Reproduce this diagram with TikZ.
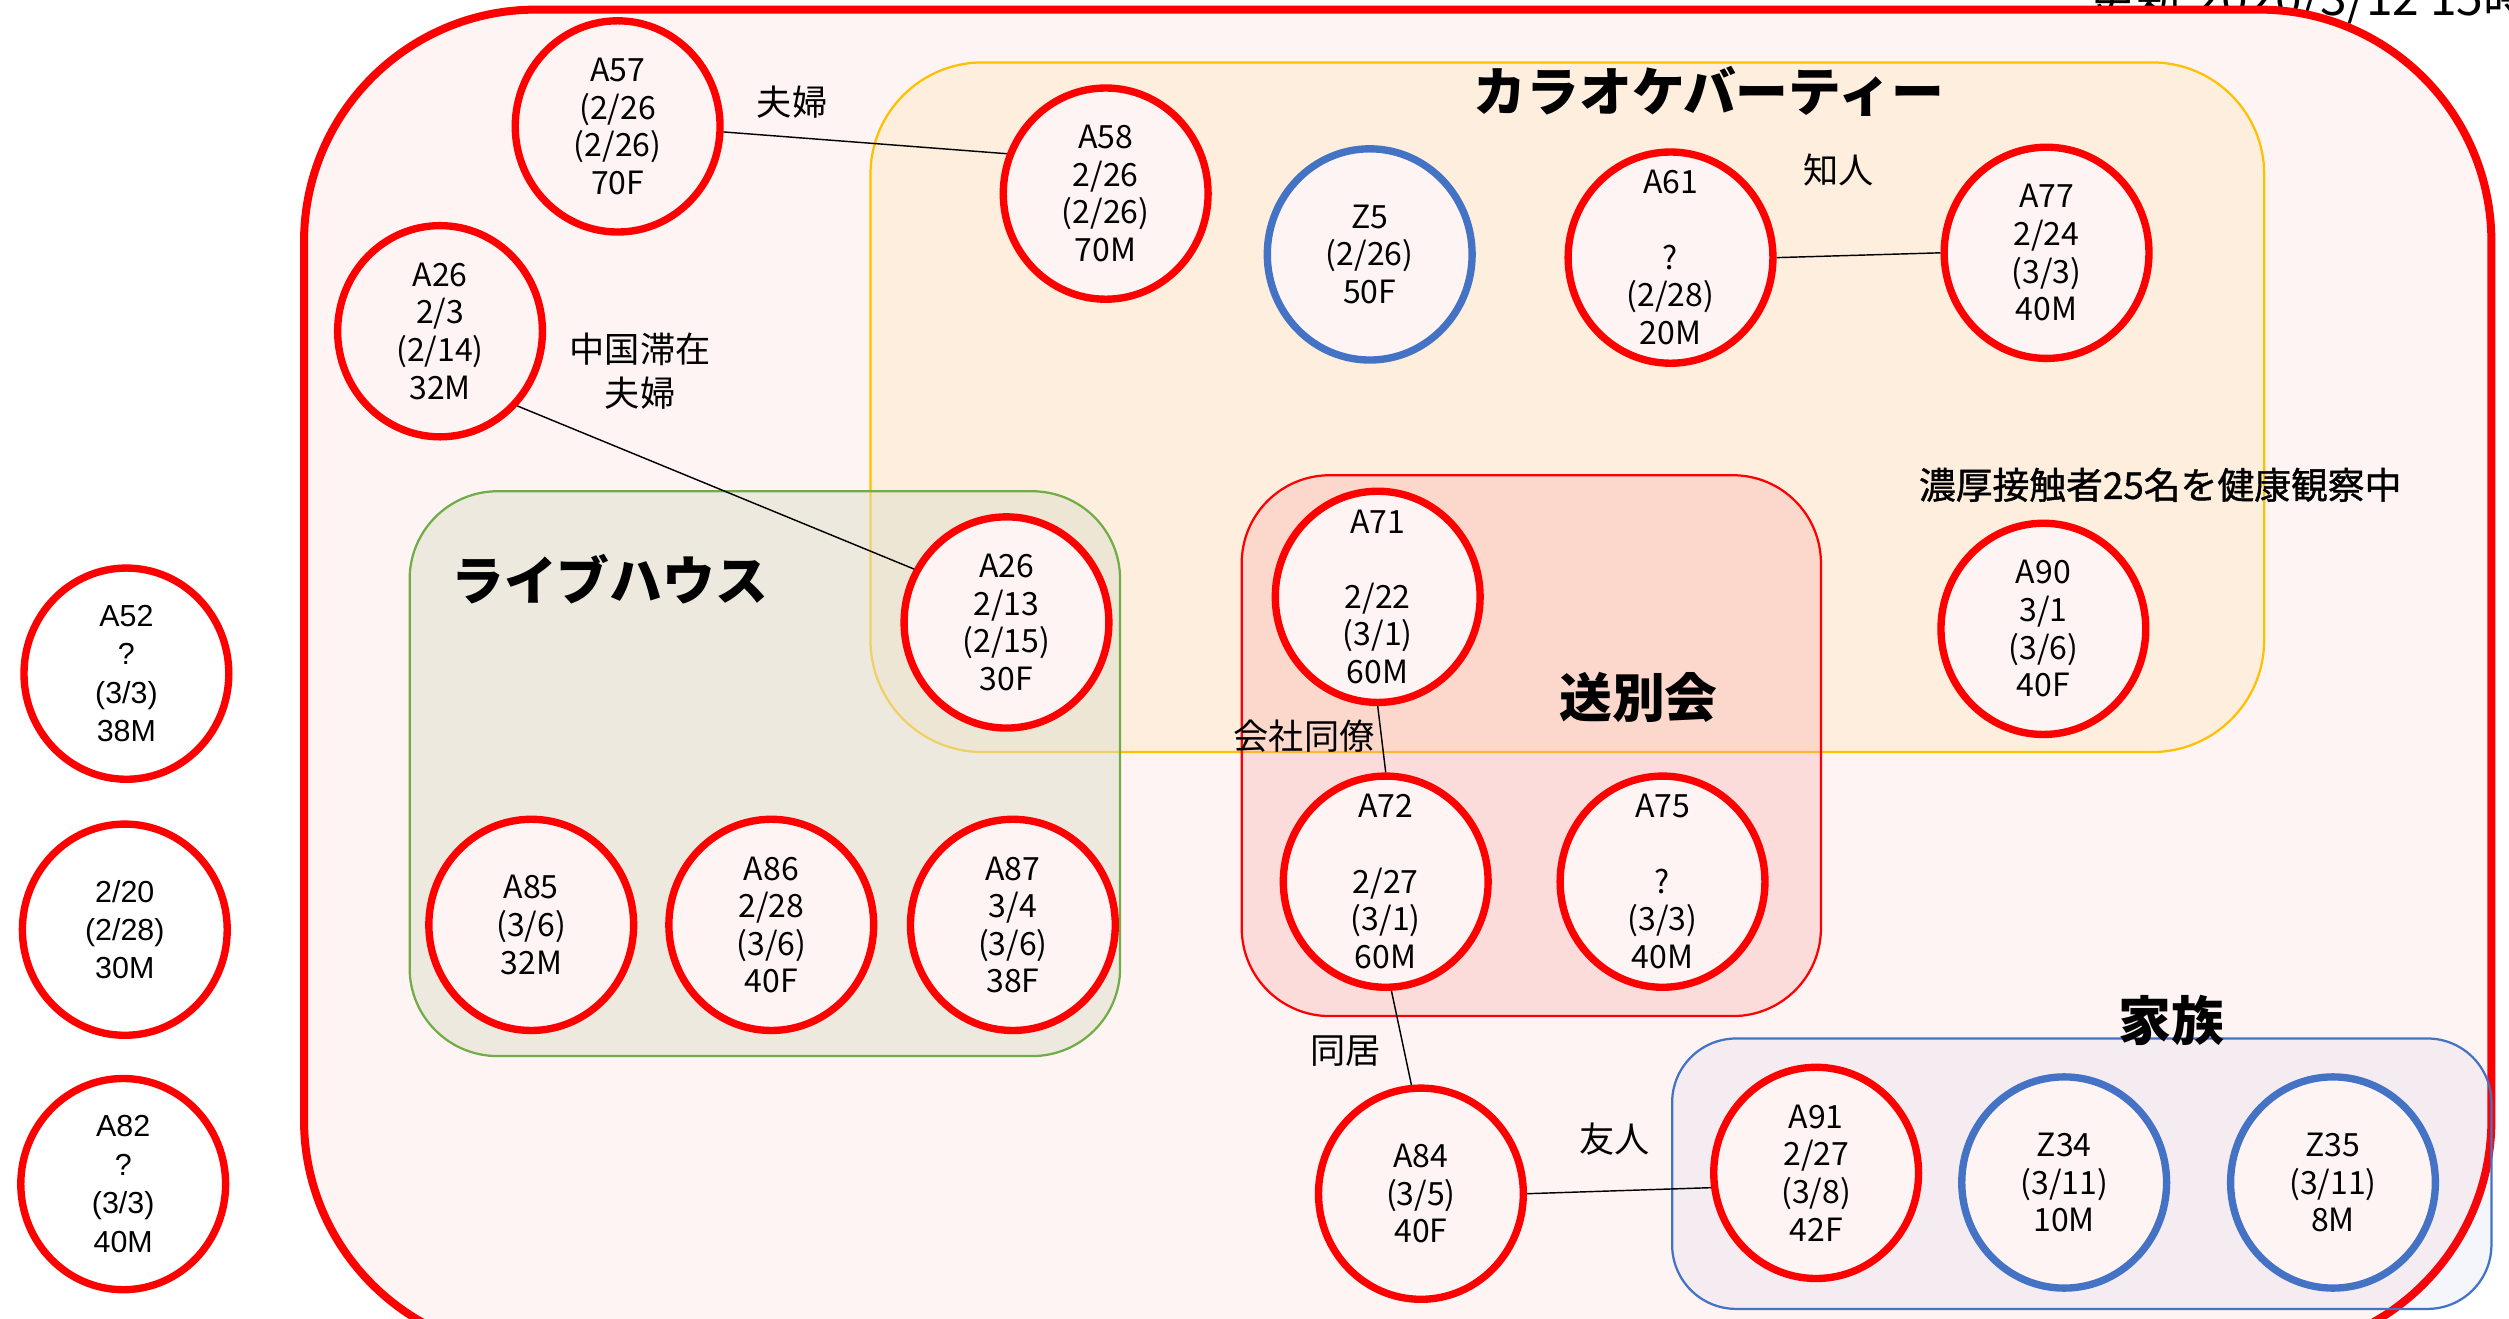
\documentclass[tikz,border=0pt]{standalone}
\usepackage{fontspec}
\setmainfont{Noto Sans CJK JP}
\newfontfamily\cjk{Noto Sans CJK JP}
\newfontfamily\cjkmed[FakeBold=1.2]{Noto Sans CJK JP}
\newfontfamily\lat{Liberation Sans}
\usetikzlibrary{shapes.geometric}
\definecolor{bgpink}{HTML}{FFF4F4}
\definecolor{pred}{HTML}{FF0000}
\definecolor{pblue}{HTML}{4472C4}
\definecolor{karfill}{HTML}{FEEEDE}
\definecolor{karline}{HTML}{FFC000}
\definecolor{livefill}{HTML}{DFE0CC}
\definecolor{liveline}{HTML}{70AD47}
\definecolor{sobfill}{HTML}{F8A4A4}
\tikzset{
  ptext/.style={align=center, inner sep=0pt, font=\cjk\fontsize{20}{23.5}\selectfont},
  otext/.style={align=center, inner sep=0pt, font=\lat\fontsize{19}{24}\selectfont},
  person/.style={ellipse, draw=pred, line width=4.6pt, fill=bgpink, minimum width=128pt, minimum height=132pt, inner sep=0pt},
  blueperson/.style={person, draw=pblue},
  outperson/.style={person, fill=white},
  conn/.style={draw=black, line width=0.9pt},
  lbl/.style={align=center, inner sep=0pt, font=\cjk\fontsize{22}{28}\selectfont},
  title/.style={inner sep=0pt, font=\cjk\bfseries\fontsize{33}{33}\selectfont},
}
\begin{document}
\begin{tikzpicture}[x=1pt, y=-1pt]
\useasboundingbox (0,0) rectangle (1568,824);
\fill[white] (0,0) rectangle (1568,824);
% update text (clipped at top, as in the reference)
\node[anchor=base west, inner sep=0pt, font=\cjk\fontsize{30}{30}\selectfont] (upd) at (1305,10) {更新 2020/3/12 15時};
% big frame
\draw[pred, line width=5pt, fill=bgpink, rounded corners=145pt] (190,6) rectangle (1557,845);
% groups
\draw[karline, line width=1.4pt, fill=karfill, rounded corners=70pt] (544,39) rectangle (1415,470);
\draw[liveline, line width=1.4pt, fill=livefill, fill opacity=0.5, rounded corners=55pt] (256,307) rectangle (700,660);
\draw[pred, line width=1.4pt, fill=sobfill, fill opacity=0.3, rounded corners=55pt] (776,297) rectangle (1138,635);
\draw[pblue, line width=1.4pt, fill=pblue, fill opacity=0.06, rounded corners=40pt] (1045,649) rectangle (1557,818);
% people
\node[person, label={[ptext]center:A57\\(2/26\\(2/26)\\70F}] (A57) at (386,79) {};
\node[person, label={[ptext]center:A58\\2/26\\(2/26)\\70M}] (A58) at (691,121) {};
\node[blueperson, label={[ptext]center:Z5\\(2/26)\\50F}] (Z5) at (856,159) {};
\node[person, label={[ptext]center:A61\\~\\?\\(2/28)\\20M}] (A61) at (1044,161) {};
\node[person, label={[ptext]center:A77\\2/24\\(3/3)\\40M}] (A77) at (1279,158) {};
\node[person, label={[ptext]center:A26\\2/3\\(2/14)\\32M}] (A26a) at (275,207) {};
\node[person, label={[ptext]center:A26\\2/13\\(2/15)\\30F}] (A26b) at (629,389) {};
\node[person, label={[ptext]center:A71\\~\\2/22\\(3/1)\\60M}] (A71) at (861,373) {};
\node[person, label={[ptext]center:A90\\3/1\\(3/6)\\40F}] (A90) at (1277,393) {};
\node[person, label={[ptext]center:A72\\~\\2/27\\(3/1)\\60M}] (A72) at (866,551) {};
\node[person, label={[ptext]center:A75\\~\\?\\(3/3)\\40M}] (A75) at (1039,551) {};
\node[person, label={[ptext]center:A85\\(3/6)\\32M}] (A85) at (332,578) {};
\node[person, label={[ptext]center:A86\\2/28\\(3/6)\\40F}] (A86) at (482,578) {};
\node[person, label={[ptext]center:A87\\3/4\\(3/6)\\38F}] (A87) at (633,578) {};
\node[person, label={[ptext]center:A84\\(3/5)\\40F}] (A84) at (888,746) {};
\node[person, label={[ptext]center:A91\\2/27\\(3/8)\\42F}] (A91) at (1135,733) {};
\node[blueperson, label={[ptext]center:Z34\\(3/11)\\10M}] (Z34) at (1290,739) {};
\node[blueperson, label={[ptext]center:Z35\\(3/11)\\8M}] (Z35) at (1458,739) {};
\node[outperson, label={[otext]center:A52\\?\\(3/3)\\38M}] (A52) at (79,421) {};
\node[outperson, label={[otext]center:2/20\\(2/28)\\30M}] (P30M) at (78,581) {};
\node[outperson, label={[otext]center:A82\\?\\(3/3)\\40M}] (A82) at (77,740) {};
% connectors
\draw[conn] (A57.-3) -- (A58.158);
\draw[conn] (A26a.-44) -- (A26b.150);
\draw[conn] (A61.east) -- (A77.west);
\draw[conn] (A71.south) -- (A72.north);
\draw[conn] (A72.-87) -- (A84.95);
\draw[conn] (A84.east) -- (A91.188);
% relation labels
\node[lbl] (l1) at (495,64) {夫婦};
\node[lbl] (l2) at (400,232) {中国滞在\\夫婦};
\node[lbl] (l3) at (1149,106) {知人};
\node[lbl] (l4) at (815,460) {会社同僚};
\node[lbl] (l5) at (841,657) {同居};
\node[lbl] (l6) at (1009,712) {友人};
\node[inner sep=0pt, font=\cjkmed\fontsize{23}{23}\selectfont] (obs) at (1350,303) {濃厚接触者25名を健康観察中};
% titles
\node[title] (t1) at (1068,57) {カラオケバーティー};
\node[title] (t2) at (381,362) {ライブハウス};
\node[title] (t3) at (1024,436) {送別会};
\node[title] (t4) at (1357,638) {家族};
\end{tikzpicture}
\end{document}
